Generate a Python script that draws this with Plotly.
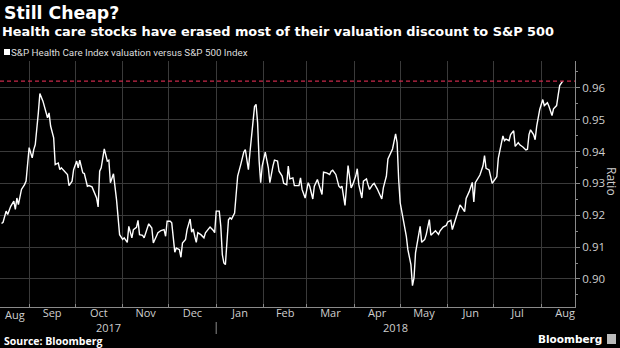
import plotly.graph_objects as go
import pandas as pd

title = "Still Cheap?"
subtitle = "Health care stocks have erased most of their valuation discount to S&P 500"
series_name = "S&P Health Care Index valuation versus S&P 500 Index"
source = "Source: Bloomberg"
y_title = "Ratio"
brand = "Bloomberg"

dates = [
"2017-08-14","2017-08-15","2017-08-17","2017-08-18","2017-08-20","2017-08-22","2017-08-23","2017-08-24","2017-08-25","2017-08-27",
"2017-08-29","2017-08-30","2017-09-01","2017-09-03","2017-09-04","2017-09-05","2017-09-07","2017-09-08","2017-09-10","2017-09-11",
"2017-09-13","2017-09-14","2017-09-15","2017-09-17","2017-09-18","2017-09-20","2017-09-21","2017-09-22","2017-09-24","2017-09-26",
"2017-09-27","2017-09-29","2017-09-30","2017-10-02","2017-10-03","2017-10-04","2017-10-06","2017-10-07","2017-10-09","2017-10-10",
"2017-10-12","2017-10-15","2017-10-16","2017-10-17","2017-10-18","2017-10-20","2017-10-22","2017-10-23","2017-10-24","2017-10-26",
"2017-10-28","2017-10-29","2017-10-30","2017-11-01","2017-11-02","2017-11-04","2017-11-05","2017-11-07","2017-11-08","2017-11-10",
"2017-11-11","2017-11-12","2017-11-14","2017-11-15","2017-11-17","2017-11-18","2017-11-20","2017-11-21","2017-11-23","2017-11-24",
"2017-11-26","2017-11-28","2017-11-29","2017-11-30","2017-12-02","2017-12-03","2017-12-05","2017-12-06","2017-12-08","2017-12-09",
"2017-12-10","2017-12-12","2017-12-13","2017-12-15","2017-12-16","2017-12-17","2017-12-18","2017-12-19","2017-12-20","2017-12-22",
"2017-12-24","2017-12-25","2017-12-27","2017-12-28","2017-12-30","2017-12-31","2018-01-01","2018-01-03","2018-01-04","2018-01-05",
"2018-01-06","2018-01-07","2018-01-09","2018-01-10","2018-01-11","2018-01-13","2018-01-14","2018-01-15","2018-01-17","2018-01-19",
"2018-01-20","2018-01-22","2018-01-23","2018-01-25","2018-01-26","2018-01-27","2018-01-28","2018-01-29","2018-01-30","2018-01-31",
"2018-02-02","2018-02-04","2018-02-05","2018-02-07","2018-02-08","2018-02-10","2018-02-11","2018-02-13","2018-02-14","2018-02-16",
"2018-02-17","2018-02-18","2018-02-20","2018-02-21","2018-02-24","2018-02-25","2018-02-26","2018-02-28","2018-03-02","2018-03-03",
"2018-03-05","2018-03-06","2018-03-08","2018-03-09","2018-03-11","2018-03-12","2018-03-14","2018-03-16","2018-03-17","2018-03-18",
"2018-03-20","2018-03-22","2018-03-23","2018-03-24","2018-03-26","2018-03-27","2018-03-28","2018-03-30","2018-03-31","2018-04-02",
"2018-04-03","2018-04-04","2018-04-06","2018-04-07","2018-04-09","2018-04-10","2018-04-11","2018-04-13","2018-04-14","2018-04-16",
"2018-04-17","2018-04-19","2018-04-20","2018-04-22","2018-04-23","2018-04-25","2018-04-26","2018-04-28","2018-04-29","2018-04-30",
"2018-05-01","2018-05-03","2018-05-05","2018-05-06","2018-05-08","2018-05-09","2018-05-10","2018-05-11","2018-05-12","2018-05-14",
"2018-05-15","2018-05-17","2018-05-18","2018-05-20","2018-05-21","2018-05-23","2018-05-24","2018-05-26","2018-05-27","2018-05-29",
"2018-05-31","2018-06-01","2018-06-03","2018-06-04","2018-06-06","2018-06-07","2018-06-09","2018-06-10","2018-06-12","2018-06-13",
"2018-06-15","2018-06-17","2018-06-18","2018-06-19","2018-06-20","2018-06-22","2018-06-24","2018-06-25","2018-06-26","2018-06-28",
"2018-06-30","2018-07-01","2018-07-03","2018-07-04","2018-07-05","2018-07-07","2018-07-08","2018-07-09","2018-07-11","2018-07-12",
"2018-07-14","2018-07-15","2018-07-17","2018-07-18","2018-07-20","2018-07-22","2018-07-23","2018-07-24","2018-07-25","2018-07-27",
"2018-07-28","2018-07-29","2018-07-31","2018-08-02","2018-08-03","2018-08-05","2018-08-06","2018-08-08","2018-08-09","2018-08-11",
"2018-08-12","2018-08-13","2018-08-15",
]

ratio = [
0.9174,0.9178,0.9213,0.9202,0.9228,0.9244,0.9218,0.9254,0.9233,0.9281,
0.9296,0.9307,0.9412,0.9380,0.9406,0.9422,0.9521,0.9582,0.9558,0.9542,
0.9506,0.9521,0.9480,0.9443,0.9359,0.9364,0.9343,0.9349,0.9338,0.9328,
0.9293,0.9307,0.9343,0.9370,0.9349,0.9373,0.9333,0.9331,0.9291,0.9293,
0.9289,0.9254,0.9226,0.9338,0.9349,0.9408,0.9370,0.9373,0.9302,0.9330,
0.9249,0.9186,0.9139,0.9124,0.9129,0.9115,0.9165,0.9129,0.9155,0.9162,
0.9184,0.9139,0.9137,0.9129,0.9160,0.9173,0.9160,0.9113,0.9134,0.9145,
0.9152,0.9155,0.9134,0.9181,0.9181,0.9176,0.9084,0.9097,0.9092,0.9068,
0.9113,0.9124,0.9155,0.9188,0.9147,0.9157,0.9134,0.9115,0.9145,0.9139,
0.9129,0.9145,0.9157,0.9163,0.9153,0.9145,0.9213,0.9213,0.9165,0.9076,
0.9050,0.9045,0.9186,0.9192,0.9188,0.9207,0.9265,0.9323,0.9359,0.9398,
0.9406,0.9343,0.9396,0.9480,0.9541,0.9548,0.9490,0.9370,0.9302,0.9354,
0.9398,0.9349,0.9302,0.9354,0.9373,0.9370,0.9338,0.9323,0.9300,0.9296,
0.9354,0.9314,0.9317,0.9293,0.9293,0.9317,0.9281,0.9254,0.9302,0.9291,
0.9251,0.9291,0.9312,0.9296,0.9265,0.9335,0.9333,0.9328,0.9338,0.9341,
0.9328,0.9291,0.9286,0.9291,0.9231,0.9291,0.9356,0.9286,0.9296,0.9323,
0.9346,0.9296,0.9254,0.9307,0.9314,0.9296,0.9281,0.9296,0.9300,0.9283,
0.9272,0.9251,0.9286,0.9323,0.9377,0.9398,0.9408,0.9455,0.9427,0.9312,
0.9239,0.9186,0.9134,0.9092,0.9045,0.8979,0.9003,0.9082,0.9113,0.9165,
0.9115,0.9124,0.9140,0.9186,0.9137,0.9147,0.9151,0.9140,0.9151,0.9163,
0.9168,0.9179,0.9184,0.9155,0.9189,0.9198,0.9232,0.9226,0.9211,0.9253,
0.9274,0.9303,0.9242,0.9302,0.9311,0.9326,0.9355,0.9387,0.9347,0.9342,
0.9300,0.9308,0.9321,0.9379,0.9400,0.9449,0.9434,0.9439,0.9434,0.9453,
0.9465,0.9416,0.9428,0.9421,0.9414,0.9405,0.9407,0.9453,0.9468,0.9453,
0.9437,0.9479,0.9532,0.9563,0.9544,0.9553,0.9542,0.9513,0.9534,0.9544,
0.9576,0.9607,0.9621,
]

y_ticks = [0.90, 0.91, 0.92, 0.93, 0.94, 0.95, 0.96]
y_tick_text = ["0.90", "0.91", "0.92", "0.93", "0.94", "0.95", "0.96"]
x_range = ["2017-08-13", "2018-08-23"]
y_range = [0.8912, 0.9684]
year_break = "2018-01-01"
first_full_month = "2017-09-01"
first_month_label = "Aug"
latest = ratio[-1]

FONT = "Open Sans"
HEAD = "DejaVu Sans"
GRID = "#3a3a3a"
AXIS = "#8a8a8a"
TICKFONT = "#cfcfcf"

fig = go.Figure()
fig.add_trace(go.Scatter(
    x=dates, y=ratio, mode="lines",
    line=dict(color="#ffffff", width=1.4),
    name=series_name, showlegend=False, hoverinfo="x+y",
))

r0 = pd.Timestamp(x_range[0]); r1 = pd.Timestamp(x_range[1]); yb = pd.Timestamp(year_break)
fm = pd.Timestamp(first_full_month)
mid2017 = r0 + (yb - r0) / 2
mid2018 = yb + (r1 - yb) / 2
mid_first = r0 + (fm - r0) / 2
yb_frac = (yb - r0) / (r1 - r0)

fig.update_layout(
    width=620, height=348,
    margin=dict(l=0, r=45, t=61, b=41),
    paper_bgcolor="#000000", plot_bgcolor="#000000",
    font=dict(family=FONT, color="#ffffff"),
    xaxis=dict(
        type="date", range=x_range,
        dtick="M1", tick0="2017-08-01", tickformat="%b",
        ticklabelmode="period", ticklabelstandoff=-4,
        showgrid=True, gridcolor=GRID, gridwidth=1,
        showline=True, linecolor=AXIS, linewidth=1,
        ticks="inside", ticklen=3, tickcolor=AXIS,
        tickfont=dict(family=FONT, size=11, color=TICKFONT),
        zeroline=False, fixedrange=True,
    ),
    yaxis=dict(
        side="right", range=y_range,
        tickvals=y_ticks, ticktext=y_tick_text,
        showgrid=True, gridcolor=GRID, gridwidth=1,
        showline=True, linecolor=AXIS, linewidth=1,
        ticks="outside", ticklen=4, tickcolor=AXIS,
        minor=dict(dtick=0.005, ticks="outside", ticklen=2, tickcolor=AXIS, showgrid=False),
        tickfont=dict(family=FONT, size=11.5, color=TICKFONT),
        zeroline=False, fixedrange=True,
    ),
)

# reference line at latest value
fig.add_shape(type="line", xref="paper", yref="y", x0=0, x1=1, y0=latest, y1=latest,
              line=dict(color="#c8294a", width=1.3, dash="4px,3px"))
# legend swatch
fig.add_shape(type="rect", xref="paper", yref="paper", x0=4, x1=10, y0=12, y1=6,
              xsizemode="pixel", ysizemode="pixel", xanchor=0, yanchor=1,
              line=dict(width=0), fillcolor="#ffffff")
# year separator below axis
fig.add_shape(type="line", xref="paper", yref="paper", x0=yb_frac, x1=yb_frac,
              y0=-15, y1=-27, ysizemode="pixel", yanchor=0,
              line=dict(color=AXIS, width=1))
# bloomberg logo icon
fig.add_shape(type="rect", xref="paper", yref="paper", x0=32, x1=41, y0=-27, y1=-37,
              xsizemode="pixel", ysizemode="pixel", xanchor=1, yanchor=0,
              line=dict(width=0), fillcolor="#bbbbbb")

annotations = [
    dict(text="<b>" + title + "</b>", x=0.003, y=1.0, xref="paper", yref="paper",
         xanchor="left", yanchor="middle", yshift=61 - 12.5, showarrow=False,
         font=dict(family=HEAD, size=17.3, color="#ffffff")),
    dict(text="<b>" + subtitle + "</b>", x=0.0, y=1.0, xref="paper", yref="paper",
         xanchor="left", yanchor="middle", yshift=61 - 31, showarrow=False,
         font=dict(family=HEAD, size=12.9, color="#ffffff")),
    dict(text=series_name, x=0.0, y=1.0, xref="paper", yref="paper",
         xanchor="left", yanchor="middle", xshift=9, yshift=61 - 52, showarrow=False,
         font=dict(family="Roboto", size=9.8, color="#dddddd")),
    dict(text=first_month_label, x=mid_first, y=0, xref="x", yref="paper",
         xanchor="center", yanchor="middle", yshift=-7.5, showarrow=False,
         font=dict(family=FONT, size=11, color=TICKFONT)),
    dict(text="2017", x=mid2017, y=0, xref="x", yref="paper",
         xanchor="center", yanchor="middle", yshift=-20, showarrow=False,
         font=dict(family=FONT, size=11, color=TICKFONT)),
    dict(text="2018", x=mid2018, y=0, xref="x", yref="paper",
         xanchor="center", yanchor="middle", yshift=-20, showarrow=False,
         font=dict(family=FONT, size=11, color=TICKFONT)),
    dict(text=y_title, x=1.0, y=0.5, xref="paper", yref="paper",
         xanchor="center", yanchor="middle", xshift=37, yshift=3, textangle=90,
         showarrow=False, font=dict(family=FONT, size=12, color=TICKFONT)),
    dict(text="<b>" + source + "</b>", x=0.003, y=0, xref="paper", yref="paper",
         xanchor="left", yanchor="middle", yshift=-34, showarrow=False,
         font=dict(family=FONT, size=10.5, color="#ffffff")),
    dict(text="<b>" + brand + "</b>", x=1.0, y=0, xref="paper", yref="paper",
         xanchor="right", yanchor="middle", xshift=29, yshift=-32, showarrow=False,
         font=dict(family=HEAD, size=10.5, color="#ffffff")),
]
fig.update_layout(annotations=annotations)

fig.write_html("out.html")
